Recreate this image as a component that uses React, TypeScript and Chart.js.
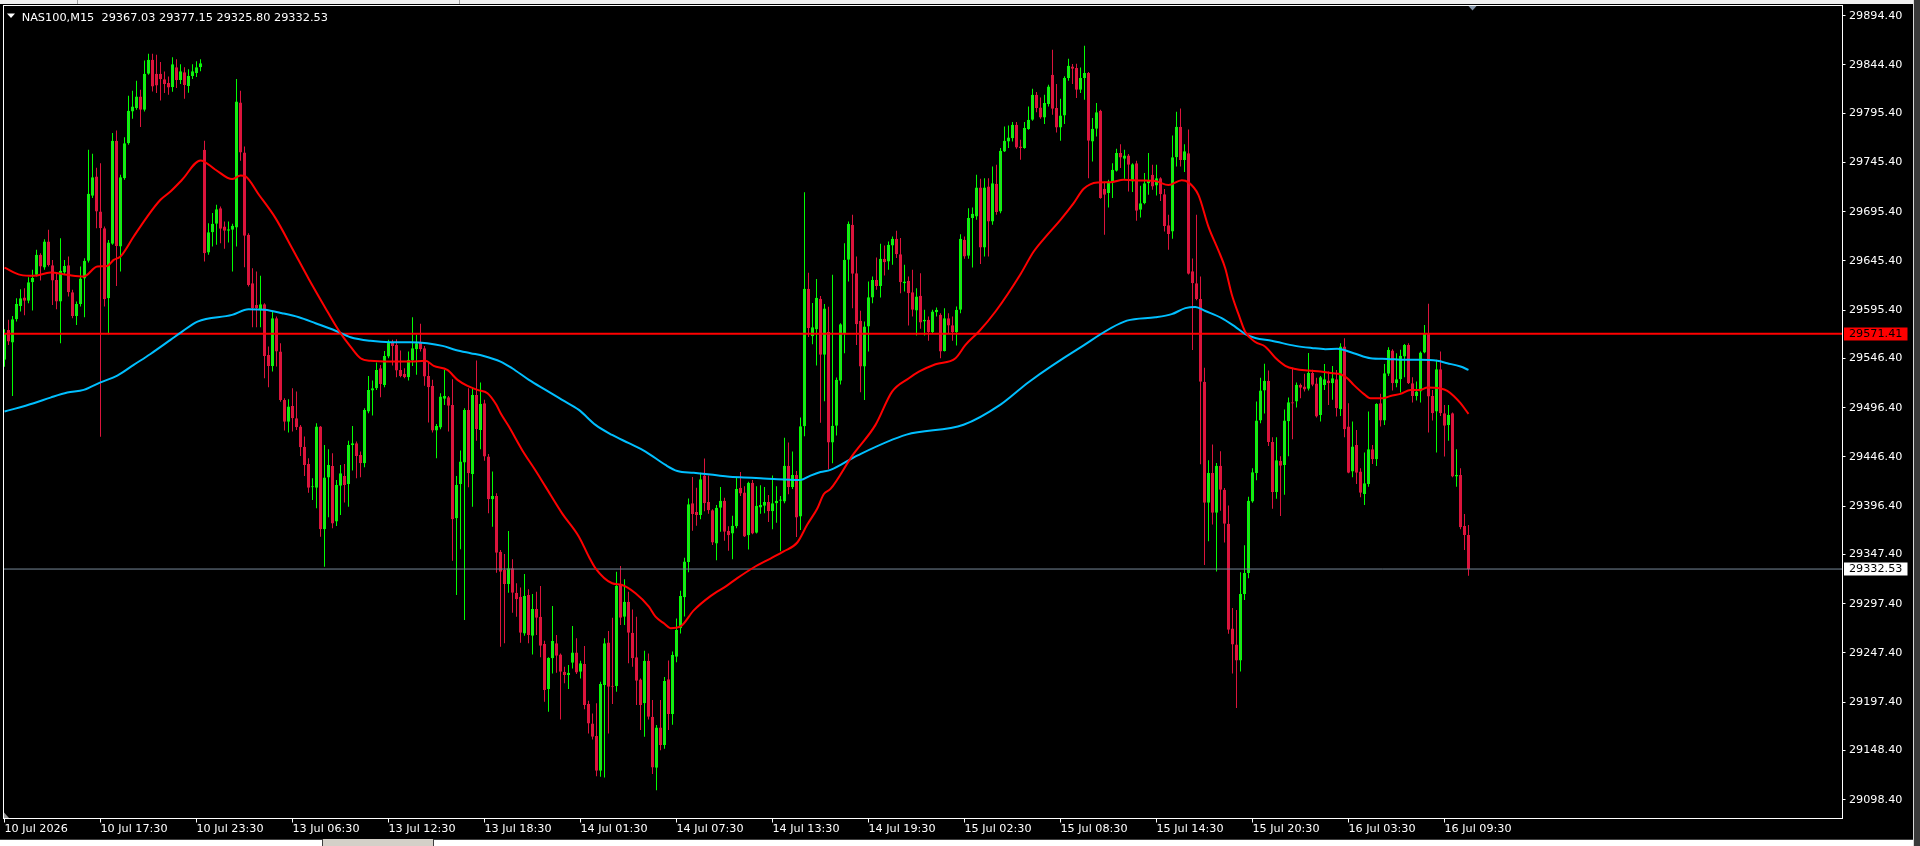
import React, { useEffect, useRef } from "react";
import { Chart, registerables } from "chart.js";

Chart.register(...registerables);

// ---- candle data (M15 bars, index 0 = 10 Jul 11:30) ----
const opens = [
  29545.0, 29575.3, 29562.5, 29586.1, 29599.7, 29608.2, 29604.8, 29623.7, 29631.2, 29651.5,
  29638.6, 29665.0, 29641.0, 29626.1, 29604.1, 29633.6, 29641.0, 29613.6, 29589.5, 29601.7,
  29627.5, 29645.4, 29711.4, 29731.1, 29695.5, 29678.6, 29607.5, 29662.7, 29767.3, 29660.0,
  29729.4, 29764.9, 29797.1, 29800.5, 29812.3, 29798.8, 29835.4, 29849.6, 29835.4, 29835.4,
  29829.9, 29825.9, 29822.0, 29842.0, 29829.0, 29837.0, 29823.0, 29833.0, 29836.0, 29842.0,
  29758.2, 29653.9, 29674.5, 29683.0, 29698.9, 29680.3, 29675.9, 29676.9, 29679.3, 29806.3,
  29755.5, 29671.8, 29622.7, 29600.7, 29596.3, 29601.4, 29549.9, 29538.8, 29587.2, 29553.3,
  29504.2, 29482.2, 29498.1, 29485.6, 29477.2, 29456.8, 29439.2, 29415.5, 29415.2, 29477.2,
  29372.9, 29425.6, 29437.2, 29380.7, 29417.2, 29427.1, 29418.9, 29458.5, 29460.2, 29448.4,
  29439.9, 29492.4, 29513.7, 29516.1, 29536.4, 29519.5, 29548.3, 29562.5, 29560.1, 29534.7,
  29530.7, 29527.3, 29544.2, 29555.7, 29562.5, 29556.7, 29528.6, 29518.5, 29473.1, 29476.2,
  29505.3, 29507.0, 29499.2, 29384.1, 29418.9, 29440.6, 29494.1, 29429.1, 29509.3, 29473.8,
  29500.9, 29446.7, 29403.4, 29406.7, 29350.2, 29331.6, 29317.4, 29333.3, 29308.6, 29304.5,
  29267.2, 29306.2, 29264.9, 29292.0, 29284.2, 29256.4, 29210.7, 29241.9, 29257.1, 29245.9,
  29228.3, 29224.9, 29237.5, 29247.9, 29228.3, 29236.1, 29195.5, 29175.8, 29163.0, 29127.8,
  29214.8, 29258.1, 29213.7, 29213.7, 29316.3, 29284.2, 29299.4, 29267.9, 29242.9, 29220.5,
  29196.2, 29239.5, 29182.6, 29130.8, 29171.8, 29153.8, 29220.6, 29185.4, 29243.4, 29272.5,
  29304.0, 29339.6, 29399.4, 29390.4, 29387.5, 29427.4, 29400.5, 29392.2, 29358.4, 29394.7,
  29402.0, 29371.5, 29368.6, 29375.9, 29415.0, 29410.3, 29366.8, 29420.1, 29369.3, 29395.1,
  29396.9, 29400.5, 29391.1, 29399.4, 29402.0, 29401.2, 29437.5, 29415.8, 29428.1, 29386.0,
  29477.4, 29617.1, 29568.8, 29576.1, 29606.9, 29550.0, 29573.5, 29461.0, 29478.0, 29523.6,
  29572.0, 29646.5, 29682.0, 29632.9, 29584.5, 29538.1, 29578.7, 29608.2, 29626.1, 29620.0,
  29647.5, 29644.7, 29661.0, 29667.8, 29652.2, 29622.8, 29625.1, 29613.6, 29595.0, 29609.9,
  29583.8, 29585.5, 29573.0, 29593.3, 29590.6, 29554.0, 29587.2, 29580.0, 29573.0, 29595.7,
  29666.8, 29650.5, 29688.8, 29690.5, 29719.9, 29659.0, 29720.9, 29685.4, 29723.6, 29695.5,
  29756.5, 29766.6, 29770.0, 29783.6, 29761.6, 29759.9, 29779.2, 29788.7, 29814.1, 29801.2,
  29791.0, 29804.6, 29834.4, 29800.5, 29780.9, 29793.1, 29831.0, 29842.8, 29841.1, 29819.1,
  29831.0, 29836.1, 29766.6, 29779.5, 29797.8, 29718.6, 29714.2, 29726.0, 29736.9, 29754.8,
  29749.0, 29752.4, 29726.0, 29744.6, 29697.2, 29704.0, 29724.3, 29732.8, 29721.9, 29729.2,
  29713.0, 29681.6, 29675.2, 29750.6, 29781.6, 29747.7, 29754.6, 29634.8, 29622.7, 29606.6,
  29522.8, 29399.8, 29430.1, 29389.8, 29437.3, 29413.1, 29378.5, 29272.1, 29255.9, 29239.8,
  29307.1, 29328.5, 29401.0, 29430.1, 29483.3, 29513.9, 29523.6, 29461.5, 29410.7, 29442.2,
  29438.1, 29482.5, 29501.8, 29502.6, 29519.6, 29517.9, 29515.5, 29531.6, 29520.8, 29489.0,
  29519.5, 29523.9, 29521.2, 29525.3, 29494.8, 29558.4, 29477.2, 29431.5, 29458.6, 29431.5,
  29408.8, 29418.9, 29454.1, 29444.0, 29500.9, 29483.3, 29530.7, 29554.4, 29521.2, 29525.3,
  29548.3, 29560.1, 29521.2, 29508.3, 29512.7, 29552.3, 29572.0, 29508.3, 29492.4, 29535.4,
  29490.7, 29478.9, 29490.7, 29426.4, 29428.1, 29376.3, 29367.03,
];

const highs = [
  29576.0, 29585.5, 29589.5, 29607.5, 29616.6, 29617.6, 29628.8, 29636.3, 29656.6, 29653.2,
  29667.4, 29676.9, 29646.4, 29632.9, 29668.4, 29646.4, 29649.8, 29616.0, 29604.1, 29639.7,
  29648.1, 29758.2, 29754.1, 29740.0, 29744.6, 29680.3, 29666.7, 29775.1, 29777.8, 29732.8,
  29771.0, 29813.0, 29818.1, 29828.3, 29819.1, 29848.9, 29855.7, 29855.7, 29854.7, 29847.2,
  29837.7, 29832.6, 29852.0, 29850.0, 29845.0, 29842.0, 29840.0, 29845.0, 29848.0, 29850.0,
  29767.3, 29683.7, 29693.9, 29702.3, 29700.6, 29685.4, 29685.4, 29683.0, 29830.0, 29818.1,
  29761.6, 29673.5, 29637.9, 29634.6, 29630.2, 29602.4, 29558.4, 29594.0, 29588.9, 29561.8,
  29505.9, 29504.9, 29516.1, 29512.7, 29478.9, 29467.0, 29445.0, 29424.7, 29480.5, 29477.8,
  29458.5, 29454.1, 29450.0, 29423.0, 29438.2, 29439.3, 29462.9, 29477.8, 29461.9, 29451.8,
  29495.8, 29528.6, 29523.9, 29542.2, 29539.8, 29554.0, 29565.2, 29565.2, 29565.9, 29554.4,
  29536.4, 29553.3, 29588.2, 29570.3, 29581.5, 29559.1, 29543.2, 29524.6, 29479.9, 29511.0,
  29534.7, 29508.3, 29525.3, 29427.1, 29452.8, 29495.8, 29516.1, 29517.1, 29544.2, 29521.9,
  29504.3, 29449.4, 29431.5, 29409.4, 29351.9, 29347.8, 29371.2, 29342.4, 29318.1, 29313.9,
  29327.5, 29312.0, 29307.2, 29309.6, 29315.3, 29259.8, 29242.9, 29295.0, 29265.6, 29246.9,
  29233.4, 29235.1, 29274.7, 29262.2, 29239.5, 29254.4, 29198.9, 29186.0, 29196.2, 29218.2,
  29262.2, 29269.6, 29283.2, 29329.9, 29335.6, 29322.1, 29309.6, 29291.6, 29284.2, 29221.5,
  29249.7, 29246.9, 29199.5, 29174.1, 29199.5, 29223.0, 29239.8, 29248.9, 29282.3, 29310.6,
  29343.9, 29404.1, 29425.9, 29415.0, 29430.3, 29444.8, 29427.4, 29393.3, 29397.6, 29415.8,
  29404.9, 29375.9, 29386.7, 29425.9, 29431.0, 29416.5, 29421.2, 29423.0, 29416.5, 29417.6,
  29415.8, 29407.8, 29427.4, 29416.5, 29406.7, 29465.8, 29461.1, 29452.0, 29432.1, 29486.5,
  29715.0, 29633.4, 29602.6, 29626.9, 29609.8, 29601.5, 29598.9, 29631.2, 29527.0, 29582.0,
  29663.4, 29685.4, 29692.2, 29649.8, 29594.7, 29583.8, 29624.5, 29629.5, 29648.8, 29662.7,
  29661.0, 29665.1, 29670.2, 29675.9, 29668.5, 29641.4, 29629.5, 29636.3, 29617.7, 29632.9,
  29595.7, 29588.9, 29595.7, 29598.0, 29592.3, 29597.4, 29592.3, 29588.9, 29599.1, 29672.5,
  29670.2, 29698.9, 29699.6, 29732.8, 29728.7, 29729.4, 29729.4, 29741.3, 29743.0, 29759.9,
  29781.9, 29782.9, 29786.3, 29786.3, 29768.3, 29786.3, 29802.2, 29820.1, 29816.8, 29811.3,
  29814.1, 29824.2, 29859.8, 29824.9, 29810.0, 29832.7, 29850.6, 29845.2, 29845.5, 29841.8,
  29863.8, 29837.1, 29790.4, 29805.6, 29798.8, 29726.0, 29727.7, 29744.6, 29759.2, 29763.9,
  29758.2, 29753.8, 29744.6, 29747.0, 29721.6, 29734.5, 29754.8, 29743.0, 29743.0, 29730.4,
  29718.3, 29692.1, 29772.7, 29796.9, 29800.1, 29763.8, 29778.8, 29647.7, 29692.1, 29629.6,
  29536.9, 29443.0, 29459.1, 29440.1, 29452.2, 29414.8, 29397.0, 29293.0, 29291.0, 29329.3,
  29356.7, 29405.9, 29434.9, 29502.6, 29526.8, 29540.9, 29534.1, 29466.4, 29466.4, 29447.0,
  29494.6, 29506.7, 29536.9, 29522.0, 29520.8, 29530.8, 29551.8, 29534.9, 29526.8, 29528.6,
  29540.8, 29533.0, 29538.8, 29534.7, 29561.8, 29566.9, 29500.9, 29482.3, 29473.8, 29434.8,
  29450.8, 29492.4, 29458.6, 29500.9, 29510.4, 29540.8, 29557.8, 29555.7, 29551.7, 29555.1,
  29561.1, 29561.8, 29527.3, 29522.9, 29553.4, 29580.4, 29601.8, 29514.4, 29544.9, 29553.4,
  29499.2, 29499.2, 29491.4, 29454.1, 29434.8, 29388.5, 29377.15,
];

const lows = [
  29538.0, 29560.1, 29508.3, 29583.8, 29593.9, 29590.2, 29602.4, 29595.0, 29629.5, 29625.4,
  29636.3, 29639.7, 29600.7, 29596.3, 29561.8, 29631.2, 29609.2, 29587.2, 29580.4, 29599.0,
  29588.2, 29643.7, 29709.1, 29678.6, 29466.9, 29599.0, 29570.9, 29661.7, 29620.0, 29634.6,
  29727.7, 29763.2, 29789.7, 29798.8, 29781.2, 29797.1, 29834.3, 29817.4, 29815.7, 29808.3,
  29815.7, 29814.0, 29817.0, 29821.0, 29825.0, 29810.0, 29816.0, 29830.0, 29832.0, 29838.0,
  29644.8, 29651.5, 29660.0, 29661.7, 29663.4, 29657.6, 29664.1, 29634.6, 29660.0, 29747.0,
  29639.0, 29619.4, 29578.0, 29578.0, 29578.0, 29526.2, 29517.1, 29533.0, 29538.1, 29502.5,
  29473.1, 29471.1, 29472.1, 29473.8, 29447.4, 29427.0, 29410.1, 29402.7, 29394.2, 29365.4,
  29334.9, 29385.0, 29373.9, 29376.3, 29387.4, 29400.0, 29395.9, 29432.5, 29424.7, 29425.7,
  29435.9, 29490.7, 29488.3, 29514.4, 29507.0, 29517.1, 29546.6, 29539.1, 29527.3, 29527.3,
  29526.3, 29523.9, 29538.8, 29529.7, 29553.3, 29518.5, 29481.2, 29471.1, 29445.0, 29474.5,
  29499.2, 29472.1, 29341.0, 29306.2, 29352.6, 29280.8, 29415.5, 29395.9, 29462.9, 29454.1,
  29442.6, 29389.1, 29375.6, 29328.8, 29253.7, 29257.1, 29308.6, 29288.2, 29284.2, 29257.8,
  29264.9, 29257.1, 29245.9, 29265.6, 29242.9, 29197.8, 29187.7, 29226.6, 29227.3, 29179.9,
  29216.5, 29210.7, 29231.7, 29225.9, 29221.5, 29190.1, 29165.7, 29159.6, 29122.3, 29121.7,
  29121.0, 29165.7, 29195.5, 29208.0, 29275.7, 29275.7, 29236.8, 29233.4, 29194.5, 29169.1,
  29162.3, 29179.9, 29124.4, 29108.1, 29148.7, 29150.0, 29169.1, 29174.5, 29238.0, 29267.0,
  29284.4, 29329.4, 29371.5, 29376.6, 29383.1, 29391.1, 29388.6, 29357.0, 29341.4, 29370.4,
  29361.3, 29351.2, 29342.5, 29374.0, 29406.7, 29365.0, 29352.3, 29367.9, 29368.6, 29388.6,
  29389.3, 29380.2, 29373.0, 29379.5, 29350.5, 29399.4, 29408.5, 29413.9, 29365.0, 29372.2,
  29467.3, 29568.1, 29560.8, 29539.1, 29481.0, 29502.8, 29433.9, 29440.0, 29468.0, 29520.0,
  29551.7, 29624.5, 29597.4, 29560.1, 29512.0, 29504.2, 29553.4, 29602.4, 29616.0, 29608.2,
  29630.5, 29636.3, 29641.4, 29648.2, 29612.6, 29614.3, 29579.8, 29588.9, 29569.6, 29576.4,
  29569.6, 29564.2, 29572.0, 29588.9, 29546.6, 29553.4, 29572.0, 29564.2, 29559.4, 29592.3,
  29647.5, 29647.5, 29638.7, 29687.1, 29642.1, 29649.8, 29649.8, 29682.0, 29692.2, 29693.8,
  29755.8, 29759.9, 29766.6, 29759.2, 29748.0, 29759.2, 29778.5, 29787.6, 29796.4, 29789.7,
  29784.3, 29802.2, 29793.7, 29775.8, 29767.3, 29784.3, 29828.3, 29824.9, 29810.7, 29815.7,
  29809.0, 29729.4, 29746.3, 29771.7, 29708.4, 29671.8, 29699.6, 29709.1, 29736.2, 29739.6,
  29728.7, 29715.9, 29715.2, 29686.1, 29689.4, 29703.0, 29712.5, 29717.6, 29711.8, 29706.2,
  29675.2, 29656.6, 29667.9, 29741.3, 29741.3, 29735.6, 29631.6, 29555.0, 29605.4, 29438.9,
  29336.6, 29360.7, 29377.7, 29330.1, 29391.8, 29359.5, 29266.8, 29226.5, 29191.4, 29228.5,
  29301.1, 29323.2, 29399.8, 29422.8, 29480.5, 29490.5, 29457.5, 29393.8, 29403.9, 29386.5,
  29407.9, 29447.0, 29464.3, 29496.6, 29505.9, 29512.7, 29513.9, 29518.0, 29486.5, 29482.3,
  29514.4, 29499.2, 29504.3, 29487.3, 29488.0, 29466.3, 29429.8, 29425.7, 29418.9, 29405.4,
  29397.6, 29416.2, 29439.3, 29437.2, 29477.2, 29478.9, 29528.6, 29513.7, 29517.1, 29511.7,
  29527.3, 29520.5, 29501.6, 29503.6, 29501.6, 29551.7, 29471.1, 29483.3, 29450.8, 29488.0,
  29446.7, 29462.9, 29425.7, 29416.2, 29372.9, 29351.9, 29325.80,
];

const closes = [
  29572.0, 29563.5, 29586.1, 29601.7, 29607.5, 29604.8, 29623.7, 29628.1, 29651.5, 29639.7,
  29665.0, 29641.3, 29625.4, 29604.1, 29635.3, 29640.3, 29613.6, 29589.5, 29601.7, 29627.5,
  29645.4, 29713.5, 29730.4, 29695.5, 29678.6, 29606.5, 29664.0, 29767.3, 29660.6, 29730.4,
  29764.9, 29797.8, 29802.2, 29812.3, 29798.8, 29835.4, 29849.6, 29822.5, 29823.5, 29829.9,
  29824.9, 29821.5, 29845.0, 29829.0, 29838.0, 29824.0, 29833.0, 29838.0, 29842.0, 29846.0,
  29653.2, 29674.5, 29683.0, 29697.9, 29678.0, 29675.9, 29677.6, 29681.0, 29807.3, 29755.5,
  29670.8, 29621.0, 29597.4, 29597.4, 29601.4, 29548.9, 29538.8, 29587.2, 29553.3, 29504.2,
  29482.2, 29497.5, 29485.6, 29476.5, 29456.2, 29438.2, 29415.2, 29416.2, 29477.2, 29372.9,
  29425.6, 29438.2, 29378.9, 29417.9, 29429.8, 29417.9, 29458.5, 29460.2, 29447.4, 29439.9,
  29494.1, 29514.4, 29516.1, 29534.7, 29520.5, 29548.9, 29562.5, 29559.1, 29534.1, 29528.6,
  29527.3, 29544.9, 29556.7, 29561.8, 29555.7, 29528.0, 29517.1, 29473.1, 29477.8, 29507.6,
  29508.3, 29498.2, 29383.0, 29417.9, 29441.6, 29494.1, 29429.8, 29509.3, 29474.5, 29500.2,
  29446.7, 29403.4, 29406.7, 29349.2, 29329.9, 29317.4, 29333.3, 29308.6, 29301.8, 29267.9,
  29305.2, 29265.6, 29292.0, 29283.2, 29254.7, 29209.7, 29242.2, 29259.5, 29244.6, 29228.3,
  29224.9, 29227.3, 29247.9, 29227.6, 29236.8, 29194.5, 29175.8, 29162.3, 29127.8, 29215.8,
  29257.1, 29213.1, 29213.1, 29315.7, 29283.2, 29299.4, 29267.9, 29241.9, 29219.2, 29194.5,
  29239.5, 29182.6, 29131.1, 29171.8, 29153.8, 29219.0, 29185.4, 29245.3, 29270.6, 29305.1,
  29340.3, 29398.3, 29388.5, 29387.5, 29423.7, 29399.4, 29392.2, 29359.5, 29394.7, 29402.0,
  29370.4, 29366.8, 29376.6, 29413.9, 29409.2, 29365.7, 29420.1, 29368.6, 29396.9, 29397.6,
  29400.5, 29391.1, 29399.4, 29402.0, 29403.1, 29437.5, 29415.8, 29428.1, 29384.9, 29477.4,
  29617.1, 29577.2, 29577.9, 29608.0, 29550.0, 29597.1, 29461.1, 29478.0, 29524.6, 29581.1,
  29646.5, 29683.0, 29632.2, 29581.1, 29538.1, 29578.7, 29608.5, 29626.1, 29620.0, 29647.5,
  29644.1, 29661.7, 29667.8, 29652.2, 29623.8, 29624.5, 29612.6, 29595.7, 29609.2, 29582.8,
  29585.5, 29573.0, 29594.0, 29595.7, 29553.4, 29587.2, 29579.8, 29573.0, 29595.7, 29667.8,
  29649.8, 29688.8, 29693.2, 29719.9, 29659.0, 29719.9, 29685.4, 29724.3, 29694.9, 29757.2,
  29767.3, 29770.7, 29783.6, 29760.6, 29759.9, 29780.2, 29788.7, 29814.1, 29800.5, 29791.0,
  29805.6, 29822.5, 29799.8, 29780.9, 29793.1, 29831.0, 29843.5, 29840.5, 29819.1, 29831.0,
  29836.1, 29767.3, 29779.5, 29796.4, 29709.1, 29712.5, 29726.0, 29737.9, 29754.8, 29750.4,
  29752.4, 29742.9, 29743.6, 29696.2, 29704.0, 29724.3, 29726.7, 29720.9, 29729.4, 29713.0,
  29680.8, 29672.7, 29750.6, 29781.6, 29747.7, 29756.6, 29632.4, 29622.7, 29606.6, 29522.8,
  29399.8, 29430.1, 29389.8, 29437.3, 29413.1, 29378.5, 29270.9, 29255.9, 29239.8, 29307.1,
  29328.5, 29401.8, 29430.9, 29483.3, 29513.9, 29523.6, 29461.5, 29410.7, 29443.0, 29437.3,
  29483.3, 29501.8, 29500.6, 29519.6, 29516.7, 29514.7, 29531.6, 29519.6, 29487.3, 29527.3,
  29525.3, 29521.2, 29526.3, 29495.8, 29558.4, 29474.5, 29430.4, 29456.9, 29430.4, 29410.1,
  29419.6, 29454.1, 29444.0, 29500.2, 29483.3, 29531.4, 29555.1, 29521.2, 29525.3, 29549.0,
  29560.1, 29521.2, 29508.3, 29512.7, 29552.3, 29572.0, 29507.6, 29490.7, 29535.4, 29490.7,
  29477.9, 29489.0, 29426.4, 29428.1, 29374.9, 29367.1, 29332.53,
];

// ---- moving averages: [bar position, price] ----
const redMa: [number, number][] = [
  [0, 29638.6], [4, 29631.2], [7.3, 29630.2], [11.5, 29633.6], [15.7, 29631.2], [19.8, 29629.5],
  [23.2, 29639.7], [25.7, 29640.3], [27.3, 29646.4], [29, 29649.8], [32.3, 29670.1], [35.7, 29690.4],
  [39, 29707.4], [41.5, 29715.8], [44.4, 29727.7], [49, 29747.4], [52.75, 29737.9], [56.9, 29728.4],
  [59, 29732.1], [60.25, 29731.1], [63.6, 29712.5], [67.75, 29688.8], [71.9, 29658.3], [76.1, 29626.8],
  [80.25, 29597.4], [82.75, 29580.0], [84, 29572.0], [86.5, 29558.4], [89, 29546.6], [91.5, 29543.9],
  [96.5, 29543.2], [101.5, 29543.2], [105.25, 29543.9], [107.3, 29538.8], [110.7, 29534.7], [113.25, 29524.6],
  [115.75, 29518.5], [118.25, 29514.4], [120.75, 29511.0], [123, 29499.0], [124, 29491.0], [126.1, 29477.2],
  [129.4, 29453.5], [132.75, 29432.5], [135.25, 29416.2], [139.4, 29389.1], [143.6, 29365.4], [146.1, 29345.0],
  [147.75, 29333.3], [151.9, 29318.1], [154.4, 29316.3], [157.75, 29307.9], [161.1, 29294.3], [162.75, 29284.2],
  [165, 29277.0], [166.5, 29272.5], [169, 29274.3], [172.3, 29290.6], [176.5, 29305.1], [180.7, 29316.0],
  [183.2, 29323.3], [187.3, 29334.1], [191.5, 29343.2], [194.8, 29350.5], [198.2, 29359.5], [200.7, 29377.7],
  [203.2, 29394.0], [204.8, 29408.5], [206.5, 29413.9], [212, 29448.0], [217.75, 29478.9], [221.9, 29512.7],
  [226.1, 29526.3], [228.6, 29533.0], [232.75, 29540.5], [237.75, 29546.6], [240.25, 29560.1], [243.6, 29573.7],
  [247.75, 29594.0], [254, 29631.9], [257.3, 29654.9], [260.7, 29671.8], [264, 29687.1], [267.3, 29704.0],
  [269.8, 29718.6], [273.2, 29725.0], [276.5, 29725.3], [279.8, 29727.7], [284, 29727.0], [287.7, 29726.4],
  [291, 29722.3], [294.3, 29727.2], [296, 29725.1], [298.5, 29712.2], [301, 29680.0], [303.5, 29655.8],
  [305.2, 29637.7], [306.8, 29611.5], [308.5, 29591.3], [310.2, 29573.2], [312.7, 29563.1], [315.2, 29558.3],
  [317.7, 29547.0], [320.2, 29538.9], [322.7, 29535.7], [326, 29534.1], [329, 29533.0], [332, 29531.4],
  [334, 29530.3], [335.7, 29526.3], [337.3, 29519.5], [339.8, 29510.4], [341.5, 29506.0], [344.8, 29506.0],
  [346.5, 29508.3], [349, 29510.4], [351.5, 29514.4], [354, 29514.4], [355.7, 29516.8], [359, 29515.8],
  [360.7, 29513.4], [362.3, 29508.3], [364, 29500.9], [366, 29490.0],
];

const blueMa: [number, number][] = [
  [0, 29492.4], [7.3, 29500.8], [11.5, 29506.6], [15.7, 29511.7], [19.8, 29514.4], [24, 29522.1],
  [28.2, 29528.9], [32.3, 29539.8], [36.5, 29550.9], [41.5, 29565.2], [44.4, 29573.6], [48.25, 29583.8],
  [56.9, 29590.6], [61, 29596.3], [65, 29595.7], [69.4, 29592.3], [73.6, 29588.2], [77.75, 29582.1],
  [82.75, 29574.5], [86.5, 29567.9], [91.5, 29564.2], [96.5, 29562.8], [101.5, 29562.8], [105.7, 29561.8],
  [109.5, 29559.1], [112.8, 29555.0], [116.5, 29551.7], [119.8, 29548.9], [124, 29543.2], [126.9, 29536.4],
  [131.1, 29524.6], [135.25, 29514.4], [139.4, 29504.3], [143.6, 29494.1], [147.75, 29478.9], [151.9, 29468.7],
  [156.1, 29460.3], [160.25, 29451.8], [165.25, 29438.2], [168.2, 29432.1], [172.3, 29430.3], [176.5, 29428.5],
  [180.7, 29426.6], [184.8, 29425.6], [189, 29424.8], [193.2, 29423.7], [199, 29423.0], [201.5, 29427.4],
  [204, 29431.0], [206.5, 29433.2], [213.3, 29448.0], [225.5, 29469.0], [239.75, 29479.0], [248.9, 29499.2],
  [256.1, 29522.5], [268.4, 29556.0], [280.6, 29584.7], [287.7, 29588.1], [291.8, 29591.3], [295.2, 29597.4],
  [297.7, 29598.6], [300.2, 29594.5], [304.3, 29587.3], [307.7, 29578.4], [310.2, 29571.1], [312.7, 29567.1],
  [316.8, 29564.3], [322.7, 29559.1], [326.8, 29557.0], [330.2, 29555.8], [333.2, 29556.1], [337.3, 29551.7],
  [341.5, 29546.6], [345.7, 29545.9], [349.8, 29544.9], [354, 29544.9], [358.2, 29543.9], [360.7, 29541.5],
  [364, 29538.1], [366, 29534.7],
];

// ---- axes / labels ----
const xTickIdx = [0, 24, 48, 72, 96, 120, 144, 168, 192, 216, 240, 264, 288, 312, 336, 360];
const xTickLabels = [
  "10 Jul 2026", "10 Jul 17:30", "10 Jul 23:30", "13 Jul 06:30", "13 Jul 12:30", "13 Jul 18:30",
  "14 Jul 01:30", "14 Jul 07:30", "14 Jul 13:30", "14 Jul 19:30", "15 Jul 02:30", "15 Jul 08:30",
  "15 Jul 14:30", "15 Jul 20:30", "16 Jul 03:30", "16 Jul 09:30",
];
const yTickValues = [
  29894.4, 29844.4, 29795.4, 29745.4, 29695.4, 29645.4, 29595.4, 29546.4, 29496.4,
  29446.4, 29396.4, 29347.4, 29297.4, 29247.4, 29197.4, 29148.4, 29098.4,
];
const yTickLabels = [
  "29894.40", "29844.40", "29795.40", "29745.40", "29695.40", "29645.40", "29595.40", "29546.40", "29496.40",
  "29446.40", "29396.40", "29347.40", "29297.40", "29247.40", "29197.40", "29148.40", "29098.40",
];

const levelPrice = 29571.41;
const levelLabel = "29571.41";
const bidPrice = 29332.53;
const bidLabel = "29332.53";
const headerSymbol = "NAS100,M15";
const headerValues = ["29367.03", "29377.15", "29325.80", "29332.53"];

const xMin = -0.25;
const xMax = 459.5;
const yMin = 29079.3;
const yMax = 29904.65;

const UP_WICK = "#00ff00";
const UP_BODY = "#32cd32";
const DOWN = "#dc143c";
const FONT = "DejaVu Sans";

const chromePlugin = {
  id: "mt4chrome",
  beforeDraw(chart: any) {
    const { ctx, width, height } = chart;
    ctx.save();
    ctx.fillStyle = "#000000";
    ctx.fillRect(0, 0, width, height);
    ctx.restore();
  },
  afterDraw(chart: any) {
    const { ctx, chartArea: a, scales, width, height } = chart;
    const x = scales.x;
    const y = scales.y;
    ctx.save();
    // plot frame
    ctx.strokeStyle = "#ffffff";
    ctx.lineWidth = 1;
    ctx.strokeRect(a.left, a.top, a.right - a.left, a.bottom - a.top);

    // price boxes on the axis
    ctx.font = `11.2px "${FONT}"`;
    ctx.textAlign = "left";
    ctx.textBaseline = "middle";
    const drawBox = (price: number, label: string, fill: string) => {
      const py = Math.round(y.getPixelForValue(price));
      ctx.fillStyle = fill;
      ctx.fillRect(a.right + 1.5, py - 6.5, 63.5, 13);
      ctx.fillStyle = "#000000";
      ctx.fillText(label, a.right + 6.5, py + 0.5);
    };
    drawBox(levelPrice, levelLabel, "#ff0000");
    drawBox(bidPrice, bidLabel, "#ffffff");

    // chart-shift marker
    const sx = x.getPixelForValue(opens.length);
    ctx.fillStyle = "#8494a8";
    ctx.beginPath();
    ctx.moveTo(sx - 4, a.top + 0.5);
    ctx.lineTo(sx + 4, a.top + 0.5);
    ctx.lineTo(sx, a.top + 5);
    ctx.closePath();
    ctx.fill();

    // header triangle
    ctx.fillStyle = "#ffffff";
    ctx.beginPath();
    ctx.moveTo(a.left + 3.5, 13.5);
    ctx.lineTo(a.left + 11.5, 13.5);
    ctx.lineTo(a.left + 7.5, 18);
    ctx.closePath();
    ctx.fill();

    // small scale marker bottom-left
    ctx.fillStyle = "#9a9a9a";
    ctx.beginPath();
    ctx.moveTo(a.left + 0.5, a.bottom - 6);
    ctx.lineTo(a.left + 0.5, a.bottom - 0.5);
    ctx.lineTo(a.left + 5.5, a.bottom - 0.5);
    ctx.closePath();
    ctx.fill();

    // top strip
    ctx.fillStyle = "#f0f0f0";
    ctx.fillRect(0, 0, width, 4);
    ctx.fillStyle = "#a0a0a0";
    ctx.fillRect(77, 0, 1, 4);
    ctx.fillRect(459, 0, 1, 4);

    // bottom tab strip
    ctx.fillStyle = "#d4d0c8";
    ctx.fillRect(0, 839, width, height - 839);
    ctx.fillStyle = "#ffffff";
    ctx.fillRect(0, 840, 322, height - 840);
    ctx.fillRect(434, 840, 1479, height - 840);
    ctx.fillStyle = "#404040";
    ctx.fillRect(0, 839, 323, 1);
    ctx.fillRect(322, 839, 1, height - 839);
    ctx.fillRect(433, 839, 1480, 1);
    ctx.fillRect(433, 839, 1, height - 839);

    // right window edge
    ctx.fillStyle = "#d8d8d8";
    ctx.fillRect(1913, 0, 1, height);
    ctx.fillStyle = "#3a3a3a";
    ctx.fillRect(1914, 0, width - 1914, height);
    ctx.restore();
  },
};

export default function App() {
  const canvasRef = useRef<HTMLCanvasElement>(null);

  useEffect(() => {
    document.body.style.margin = "0";
    document.body.style.background = "#000";
    const canvas = canvasRef.current;
    if (!canvas) return;
    const idx = opens.map((_, i) => i);
    const up = idx.map((i) => closes[i] >= opens[i]);

    const chart = new Chart(canvas, {
      type: "bar",
      data: {
        datasets: [
          {
            type: "line",
            label: "MA red",
            data: redMa.map(([bx, v]) => ({ x: bx, y: v })),
            borderColor: "#ff0000",
            borderWidth: 2,
            pointRadius: 0,
            cubicInterpolationMode: "monotone",
            order: 0,
          } as any,
          {
            type: "line",
            label: "MA blue",
            data: blueMa.map(([bx, v]) => ({ x: bx, y: v })),
            borderColor: "#00bfff",
            borderWidth: 2,
            pointRadius: 0,
            cubicInterpolationMode: "monotone",
            order: 0,
          } as any,
          {
            type: "line",
            label: "level",
            data: [
              { x: xMin, y: levelPrice },
              { x: xMax, y: levelPrice },
            ],
            borderColor: "#ff0000",
            borderWidth: 2,
            pointRadius: 0,
            order: 1,
          } as any,
          {
            type: "line",
            label: "bid",
            data: [
              { x: xMin, y: bidPrice },
              { x: xMax, y: bidPrice },
            ],
            borderColor: "#778899",
            borderWidth: 1,
            pointRadius: 0,
            order: 1,
          } as any,
          {
            type: "bar",
            label: "body",
            data: idx.map((i) => ({ x: i, y: [opens[i], closes[i]] })),
            backgroundColor: idx.map((i) => (up[i] ? UP_BODY : DOWN)),
            borderColor: idx.map((i) => (up[i] ? UP_WICK : DOWN)),
            borderWidth: 1,
            borderSkipped: false,
            grouped: false,
            maxBarThickness: 3,
            barPercentage: 1,
            categoryPercentage: 1,
            minBarLength: 1,
            inflateAmount: 0,
            order: 2,
          } as any,
          {
            type: "bar",
            label: "wick",
            data: idx.map((i) => ({ x: i, y: [lows[i], highs[i]] })),
            backgroundColor: idx.map((i) => (up[i] ? UP_WICK : DOWN)),
            borderWidth: 0,
            grouped: false,
            maxBarThickness: 1,
            barPercentage: 1,
            categoryPercentage: 1,
            inflateAmount: 0,
            order: 3,
          } as any,
        ],
      },
      options: {
        responsive: false,
        animation: false,
        devicePixelRatio: 1,
        events: [],
        layout: { padding: { left: 3.5, top: 5.5, right: 0, bottom: 0 } },
        plugins: {
          legend: { display: false },
          tooltip: { enabled: false },
          title: { display: false },
        },
        scales: {
          x: {
            type: "linear",
            min: xMin,
            max: xMax,
            offset: false,
            position: "bottom",
            border: { display: false },
            grid: {
              display: true,
              offset: false,
              drawOnChartArea: false,
              drawTicks: true,
              tickLength: 4,
              color: "#ffffff",
              lineWidth: 1,
            },
            ticks: {
              autoSkip: false,
              maxRotation: 0,
              minRotation: 0,
              align: "start",
              padding: 0,
              color: "#ffffff",
              font: { family: FONT, size: 11.2 },
              callback: (_v: any, i: number) => xTickLabels[i],
            },
            afterBuildTicks: (s: any) => {
              s.ticks = xTickIdx.map((v) => ({ value: v }));
            },
            afterFit: (s: any) => {
              s.height = 27.5;
              s.paddingLeft = 0;
              s.paddingRight = 0;
            },
          } as any,
          y: {
            type: "linear",
            position: "right",
            min: yMin,
            max: yMax,
            border: { display: false },
            grid: {
              display: true,
              drawOnChartArea: false,
              drawTicks: true,
              tickLength: 3,
              color: "#ffffff",
              lineWidth: 1,
            },
            ticks: {
              autoSkip: false,
              padding: 3.5,
              color: "#ffffff",
              font: { family: FONT, size: 11.2 },
              callback: (_v: any, i: number) => yTickLabels[i],
            },
            afterBuildTicks: (s: any) => {
              s.ticks = yTickValues.map((v) => ({ value: v }));
            },
            afterFit: (s: any) => {
              s.width = 77.5;
              s.paddingTop = 0;
              s.paddingBottom = 0;
            },
          } as any,
        },
      } as any,
      plugins: [chromePlugin],
    });
    return () => chart.destroy();
  }, []);

  return (
    <div
      style={{
        position: "fixed",
        left: 0,
        top: 0,
        width: 1920,
        height: 846,
        background: "#000",
        overflow: "hidden",
      }}
    >
      <canvas ref={canvasRef} width={1920} height={846} style={{ display: "block", width: 1920, height: 846 }} />
      <div
        style={{
          position: "absolute",
          left: 21.7,
          top: 10.9,
          color: "#ffffff",
          fontFamily: `"${FONT}"`,
          fontSize: "11.3px",
          lineHeight: "13px",
          whiteSpace: "pre",
        }}
      >
        {headerSymbol + "  " + headerValues.join(" ")}
      </div>
    </div>
  );
}
